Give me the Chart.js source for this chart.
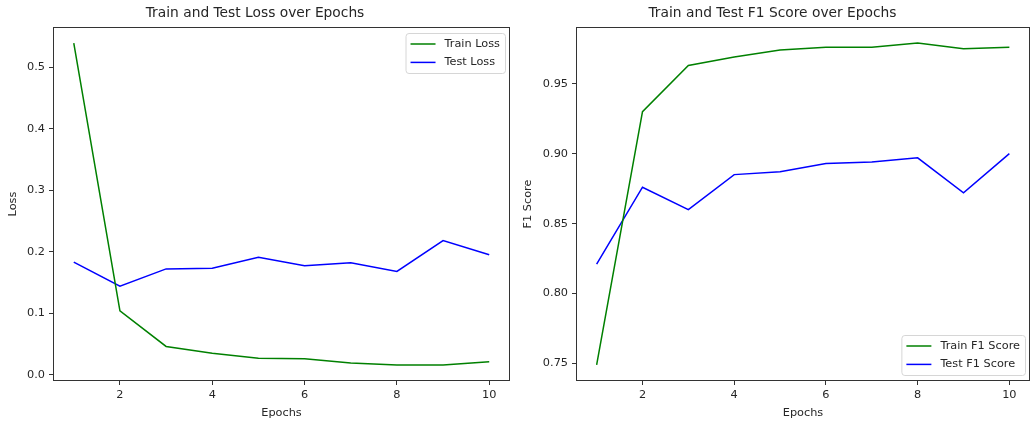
<!DOCTYPE html>
<html>
<head>
<meta charset="utf-8">
<script src="https://cdn.jsdelivr.net/npm/chart.js@4.4.1/dist/chart.umd.min.js"></script>
<style>
  body { margin: 0; background: #fff; }
  #wrap { position: relative; width: 1031px; height: 424px; }
  canvas { position: absolute; top: 0; }
</style>
</head>
<body>
<div id="wrap">
  <canvas id="lossChart" width="515" height="424" style="left:0"></canvas>
  <canvas id="f1Chart" width="516" height="424" style="left:515px"></canvas>
</div>
<script>
// data
let epochs = [1, 2, 3, 4, 5, 6, 7, 8, 9, 10];
let trainLoss = [0.539, 0.104, 0.046, 0.035, 0.027, 0.026, 0.019, 0.016, 0.016, 0.021];
let testLoss = [0.183, 0.144, 0.172, 0.173, 0.191, 0.177, 0.182, 0.168, 0.218, 0.195];
let trainF1 = [0.749, 0.930, 0.963, 0.969, 0.974, 0.976, 0.976, 0.979, 0.975, 0.976];
let testF1 = [0.821, 0.876, 0.860, 0.885, 0.887, 0.893, 0.894, 0.897, 0.872, 0.900];
let xTicks = [2, 4, 6, 8, 10];
let lossTicks = [0.0, 0.1, 0.2, 0.3, 0.4, 0.5];
let f1Ticks = [0.75, 0.80, 0.85, 0.90, 0.95];

const FONT = 'DejaVu Sans';
const TXT = '#262626';
const SMALL = 11.3;

function range(arrs) {
    let all = [].concat(...arrs);
    let mn = Math.min(...all), mx = Math.max(...all);
    let pad = (mx - mn) * 0.05;
    return [mn - pad, mx + pad];
}

// matplotlib-like frame round the plot area
const framePlugin = {
    id: 'frame',
    afterDraw(chart) {
        let a = chart.chartArea, ctx = chart.ctx;
        ctx.save();
        ctx.strokeStyle = '#333';
        ctx.lineWidth = 1;
        ctx.strokeRect(Math.round(a.left) + 0.5, Math.round(a.top) + 0.5,
            Math.round(a.right - a.left) - 1, Math.round(a.bottom - a.top) - 1);
        ctx.restore();
    }
};

// legend drawn inside the plot area
const boxLegend = {
    id: 'boxLegend',
    afterDraw(chart, args, opts) {
        let a = chart.chartArea, ctx = chart.ctx;
        let sets = chart.data.datasets;
        ctx.save();
        ctx.font = SMALL + 'px ' + FONT;
        let tw = Math.max(...sets.map(d => ctx.measureText(d.label).width));
        let w = 5 + 25 + 9 + tw + 5, h = 40;
        let x = a.right - 5 - w;
        let y = opts.corner === 'br' ? a.bottom - 6 - h : a.top + 6;
        ctx.fillStyle = 'rgba(255,255,255,0.8)';
        ctx.strokeStyle = '#d6d6d6';
        ctx.lineWidth = 1;
        ctx.beginPath();
        ctx.roundRect(x + 0.5, y + 0.5, w, h, 3);
        ctx.fill();
        ctx.stroke();
        sets.forEach((d, i) => {
            let cy = y + 11 + i * 18.4;
            ctx.strokeStyle = d.borderColor;
            ctx.lineWidth = 1.5;
            ctx.beginPath();
            ctx.moveTo(x + 5, cy);
            ctx.lineTo(x + 30, cy);
            ctx.stroke();
            ctx.fillStyle = TXT;
            ctx.textBaseline = 'middle';
            ctx.fillText(d.label, x + 39, cy);
        });
        ctx.restore();
    }
};

function makeChart(id, title, yLabel, series, yTicks, digits, yWidth, rightPad, corner) {
    let [ymin, ymax] = range(series.map(s => s.data));
    let ctx = document.getElementById(id).getContext('2d');
    return new Chart(ctx, {
        type: 'line',
        data: {
            datasets: series.map(s => ({
                label: s.label,
                data: epochs.map((e, i) => ({ x: e, y: s.data[i] })),
                borderColor: s.color,
                backgroundColor: s.color,
                borderWidth: 1.5,
                pointRadius: 0,
                tension: 0
            }))
        },
        options: {
            responsive: false,
            animation: false,
            layout: { padding: { left: 0, right: rightPad, top: 0, bottom: 0 } },
            plugins: {
                legend: { display: false },
                tooltip: { enabled: false },
                title: {
                    display: true,
                    text: title,
                    color: TXT,
                    font: { family: FONT, size: 13.8, weight: 'normal', lineHeight: 1.25 },
                    padding: { top: 5, bottom: 4.75 }
                },
                boxLegend: { corner: corner }
            },
            scales: {
                x: {
                    type: 'linear',
                    min: 0.55,
                    max: 10.45,
                    afterBuildTicks: sc => { sc.ticks = xTicks.map(v => ({ value: v })); },
                    afterFit: sc => { sc.height = 43; },
                    grid: { drawOnChartArea: false, drawTicks: true, tickLength: 4, color: '#333' },
                    border: { display: false },
                    ticks: { color: TXT, padding: 3, font: { family: FONT, size: SMALL }, maxRotation: 0 },
                    title: { display: true, text: 'Epochs', color: TXT, font: { family: FONT, size: SMALL }, padding: { top: 0, bottom: 4 } }
                },
                y: {
                    min: ymin,
                    max: ymax,
                    afterBuildTicks: sc => { sc.ticks = yTicks.map(v => ({ value: v })); },
                    afterFit: sc => { sc.width = yWidth; },
                    grid: { drawOnChartArea: false, drawTicks: true, tickLength: 4, color: '#333' },
                    border: { display: false },
                    ticks: { color: TXT, padding: 4, font: { family: FONT, size: SMALL }, callback: v => v.toFixed(digits) },
                    title: { display: true, text: yLabel, color: TXT, font: { family: FONT, size: SMALL }, padding: { top: 6, bottom: 0 } }
                }
            }
        },
        plugins: [framePlugin, boxLegend]
    });
}

makeChart('lossChart', 'Train and Test Loss over Epochs', 'Loss', [
    { label: 'Train Loss', data: trainLoss, color: 'green' },
    { label: 'Test Loss', data: testLoss, color: 'blue' }
], lossTicks, 1, 53, 5, 'tr');

makeChart('f1Chart', 'Train and Test F1 Score over Epochs', 'F1 Score', [
    { label: 'Train F1 Score', data: trainF1, color: 'green' },
    { label: 'Test F1 Score', data: testF1, color: 'blue' }
], f1Ticks, 2, 61, 1, 'br');
</script>
</body>
</html>
